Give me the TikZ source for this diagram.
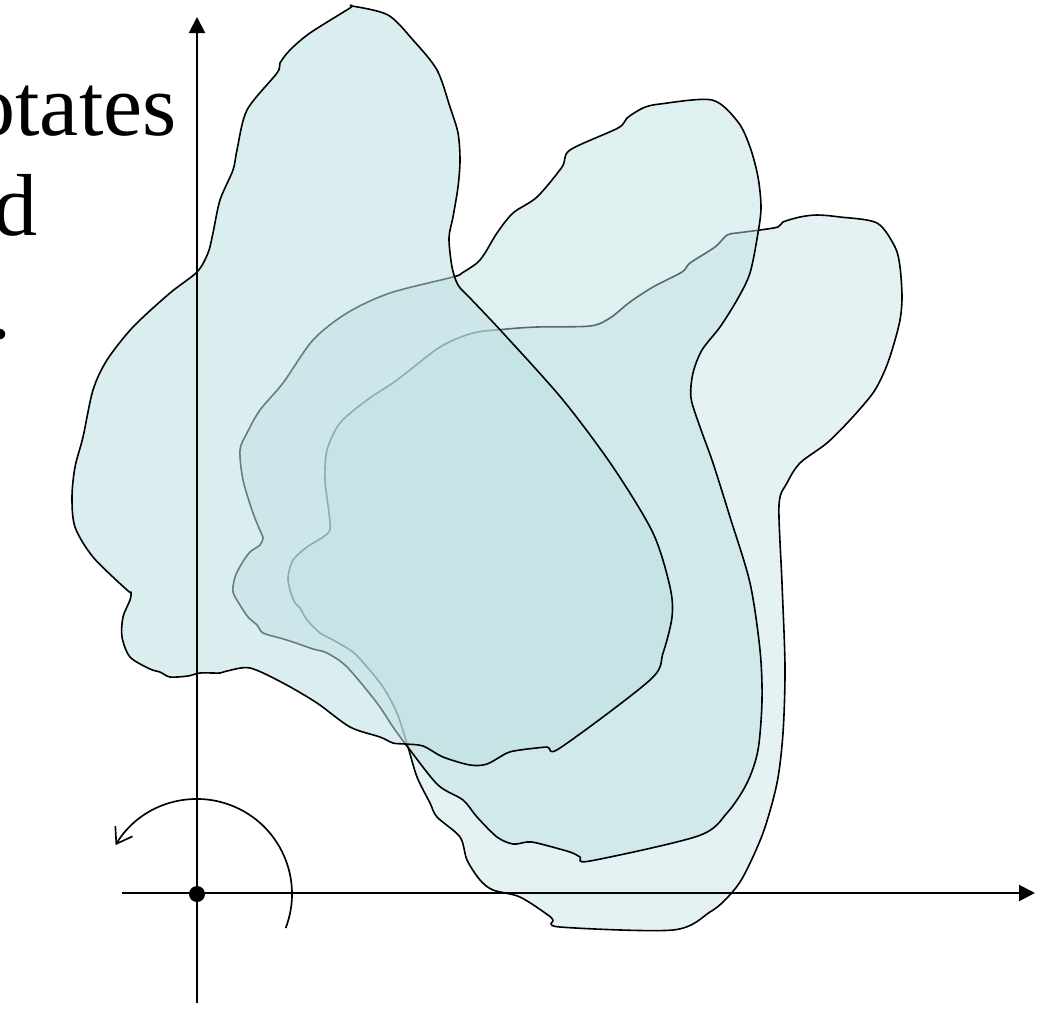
\documentclass[tikz,border=0pt]{standalone}
\usepackage{fontspec}
\setmainfont{Liberation Serif}
\usetikzlibrary{arrows.meta}
\definecolor{blobfill}{RGB}{189,223,226}
\begin{document}
\begin{tikzpicture}[x=0.75pt,y=-0.75pt,
  blobline/.style={draw=black,line width=1.2pt,line join=round,fill=blobfill},
  blobA/.style={blobline,fill opacity=0.56},
  blobB/.style={blobline,fill opacity=0.48},
  blobC/.style={blobline,fill opacity=0.41},
  axis/.style={line width=1.5pt,-{Triangle[length=12pt,width=12pt]}},
  bigtext/.style={anchor=base east,inner sep=0pt,font=\fontsize{66}{80}\selectfont}
]
\useasboundingbox (0,0) rectangle (1041,1017);
\begin{scope}
\clip (0,0) rectangle (1041,1017);
\node[bigtext] (t1) at (177,135) {otates};
\node[bigtext] (t2) at (38,235) {d};
\node[bigtext] (t3) at (12,338) {.};
\end{scope}
% right blob (C)
\draw[blobC] plot[smooth cycle,tension=0.5] coordinates {
(817,215) (840,217) (877,223) (895,247) (900,267) (902,297) (900,320) (893,347) (885,370) (873,393) (850,420) (827,443) (800,463) (787,483) (779,505) (782,583) (785,667) (783,733) (777,783) (763,833) (743,877) (727,898) (710,912) (673,930) (560,927) (553,920) (548,915) (520,897) (493,890) (480,880) (467,860) (460,837) (437,817) (430,803) (417,777) (408,747) (397,713) (383,687) (367,667) (353,652) (333,640) (320,633) (307,620) (300,608) (295,603) (290,590) (288,577) (293,560) (307,547) (323,537) (330,530) (329,513) (325,480) (327,450) (340,423) (367,400) (397,380) (440,347) (473,333) (507,329) (537,327) (590,326) (610,318) (630,302) (653,287) (682,272) (690,263) (715,247) (727,235) (737,233) (760,230) (778,227) (783,222) (800,217)};
% middle blob (B)
\draw[blobB] plot[smooth cycle,tension=0.5] coordinates {
(712,100) (738,122) (750,147) (758,177) (761,207) (758,233) (750,273) (737,300) (720,327) (702,350) (693,373) (691,398) (700,427) (713,463) (730,517) (750,583) (760,650) (762,700) (758,750) (747,783) (727,813) (698,836) (590,861) (580,857) (570,852) (537,843) (527,842) (513,844) (497,837) (477,817) (463,800) (438,785) (410,750) (393,727) (377,703) (347,667) (327,653) (313,649) (293,642) (280,638) (263,633) (257,625) (248,617) (240,605) (233,592) (235,577) (242,563) (250,552) (260,545) (263,538) (262,535) (253,513) (243,480) (240,450) (247,433) (260,410) (283,383) (313,340) (347,313) (390,293) (453,277) (462,273) (477,263) (485,253) (497,233) (513,213) (537,197) (562,167) (570,150) (618,128) (627,118) (643,108) (660,104)};
% left blob (A)
\draw[blobA] plot[smooth cycle,tension=0.5] coordinates {
(352,6) (388,15) (413,40) (437,70) (450,107) (458,133) (460,160) (458,187) (453,217) (449,238) (452,267) (458,285) (470,298) (503,333) (563,400) (613,467) (653,533) (670,587) (672,617) (663,653) (650,680) (560,748) (547,747) (520,750) (507,753) (487,764) (470,765) (443,757) (423,746) (405,744) (393,743) (380,737) (350,727) (317,703) (283,683) (250,668) (227,671) (220,673) (200,673) (188,676) (170,677) (160,672) (150,669) (130,657) (122,637) (123,617) (130,600) (131,592) (127,590) (93,557) (75,527) (72,497) (75,467) (83,437) (93,390) (107,360) (133,327) (170,293) (197,272) (208,253) (213,233) (220,200) (233,170) (237,150) (247,110) (277,73) (280,63) (290,50) (310,33) (350,8)};
% axes
\coordinate (xs) at (122,893);
\coordinate (xe) at (1035,893);
\coordinate (ys) at (197,1003);
\coordinate (ye) at (197,17);
\draw[axis] (xs) -- (xe);
\draw[axis] (ys) -- (ye);
\node[circle,fill=black,inner sep=0pt,minimum size=12pt] (o) at (197,894) {};
% rotation arrow
\draw[line width=1.25pt,-{Straight Barb[length=11pt,width=15pt]}] (o) ++(21:95) arc[start angle=21,end angle=-149,radius=95];
\end{tikzpicture}
\end{document}
